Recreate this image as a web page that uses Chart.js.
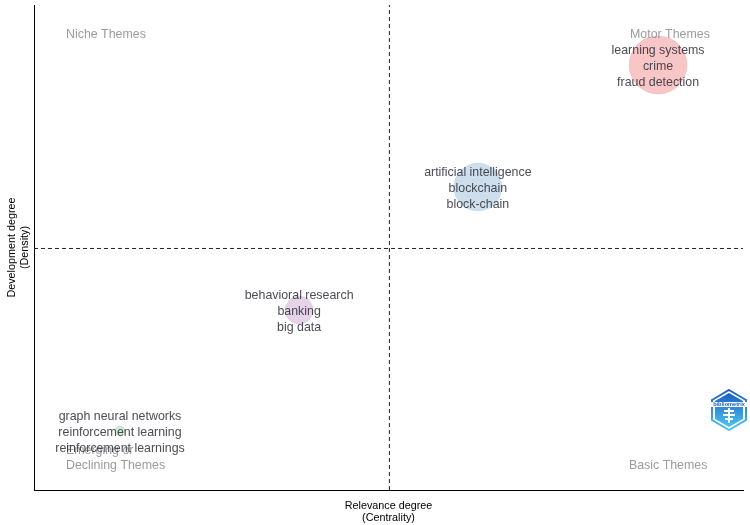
<!DOCTYPE html>
<html>
<head>
<meta charset="utf-8">
<style>
  html, body { margin: 0; padding: 0; background: #fff; }
  #wrap { position: relative; width: 750px; height: 525px; }
  #logo { position: absolute; left: 711px; top: 389px; }
</style>
<script src="https://cdn.jsdelivr.net/npm/chart.js@4"></script>
</head>
<body>
<div id="wrap">
  <canvas id="map" width="750" height="525"></canvas>
  <svg id="logo" width="36" height="42" viewBox="0 0 36 42">
    <defs>
      <linearGradient id="hexFill" x1="0" y1="0" x2="0" y2="1">
        <stop offset="0" stop-color="#1c5fc0"/>
        <stop offset="1" stop-color="#4cc4f0"/>
      </linearGradient>
    </defs>
    <polygon points="18,1 35,11 35,31 18,41 1,31 1,11" fill="#fff" stroke="url(#hexFill)" stroke-width="2"/>
    <polygon points="18,4 32,12 32,30 18,38 4,30 4,12" fill="url(#hexFill)"/>
    <rect x="0" y="13" width="36" height="5" fill="#fff"/>
    <text x="18" y="17.4" font-family="Liberation Sans" font-size="5.6" font-weight="bold" fill="#1c5fc0" text-anchor="middle">bibliometrix</text>
    <path d="M18 19v15M13 22h10M12 26h12M14 30h8" stroke="#fff" stroke-width="2" fill="none"/>
  </svg>
</div>
<script>
// Thematic map: values rescaled so the quadrant lines sit at 0
const clusterNames = ['motor', 'ai', 'banking', 'gnn'];
const centrality = [0.756, 0.249, -0.254, -0.758];
const density = [0.754, 0.252, -0.253, -0.75];
const bubbleSize = [29, 24, 14, 5];
const clusterColors = ['228, 26, 28', '55, 126, 184', '152, 78, 163', '77, 175, 74'];
const clusterLabels = [
  ['learning systems', 'crime', 'fraud detection'],
  ['artificial intelligence', 'blockchain', 'block-chain'],
  ['behavioral research', 'banking', 'big data'],
  ['graph neural networks', 'reinforcement learning', 'reinforcement learnings']
];

const themeNames = ['Niche Themes', 'Motor Themes', 'Emerging or', 'Declining Themes', 'Basic Themes'];
const themeX = [-0.91, 0.677, -0.91, -0.91, 0.674];
const themeY = [0.885, 0.885, -0.822, -0.884, -0.884];

const xRange = [-1, 0.995];
const yRange = [-0.992, 1];

// Draws the word lists and the quadrant names on top of the bubbles
const textLayer = {
  id: 'textLayer',
  afterDatasetsDraw(chart) {
    const { ctx, scales } = chart;
    const points = chart.getDatasetMeta(0).data;
    ctx.save();
    ctx.font = "12.4px 'Liberation Sans', Arial, sans-serif";
    ctx.textBaseline = 'middle';

    ctx.fillStyle = 'rgba(150, 150, 155, 0.95)';
    ctx.textAlign = 'left';
    themeNames.forEach((name, i) => {
      ctx.fillText(name, scales.x.getPixelForValue(themeX[i]), scales.y.getPixelForValue(themeY[i]) + 1.5);
    });

    ctx.fillStyle = 'rgba(50, 50, 60, 0.88)';
    ctx.textAlign = 'center';
    clusterLabels.forEach((words, i) => {
      words.forEach((word, j) => {
        ctx.fillText(word, points[i].x, points[i].y + (j - 1) * 16 + 1.5);
      });
    });
    ctx.restore();
  }
};

new Chart(document.getElementById('map'), {
  type: 'bubble',
  data: {
    labels: clusterNames,
    datasets: [
      {
        data: centrality.map((x, i) => ({ x: x, y: density[i], r: bubbleSize[i] })),
        backgroundColor: clusterColors.map(c => `rgba(${c}, 0.25)`),
        borderColor: clusterColors.map(c => `rgba(${c}, 0.1)`),
        borderWidth: 1,
        hoverRadius: 0,
      },
      {
        type: 'line',
        data: [{ x: xRange[0], y: 0 }, { x: xRange[1], y: 0 }],
        borderColor: '#222',
        borderWidth: 1,
        borderDash: [4, 3],
        pointRadius: 0,
      },
      {
        type: 'line',
        data: [{ x: 0, y: yRange[0] }, { x: 0, y: yRange[1] }],
        borderColor: '#222',
        borderWidth: 1,
        borderDash: [4, 3],
        pointRadius: 0,
      }
    ]
  },
  options: {
    responsive: false,
    animation: false,
    layout: { autoPadding: false, padding: { top: 5, right: 7, left: 0, bottom: 0 } },
    plugins: { legend: { display: false }, tooltip: { enabled: false } },
    scales: {
      x: {
        type: 'linear',
        min: xRange[0],
        max: xRange[1],
        grid: { display: false },
        border: { color: '#000', width: 1 },
        ticks: { display: false },
        afterFit: scale => { scale.height = 35; },
        title: {
          display: true,
          text: ['Relevance degree', '(Centrality)'],
          color: '#000',
          font: { family: "'Liberation Sans', Arial, sans-serif", size: 10.8 },
          padding: { top: 2, bottom: 0 },
        },
      },
      y: {
        type: 'linear',
        min: yRange[0],
        max: yRange[1],
        grid: { display: false },
        border: { color: '#000', width: 1 },
        ticks: { display: false },
        afterFit: scale => { scale.width = 34; },
        title: {
          display: true,
          text: ['Development degree', '(Density)'],
          color: '#000',
          font: { family: "'Liberation Sans', Arial, sans-serif", size: 10.8 },
          padding: { top: 6, bottom: 0 },
        },
      }
    }
  },
  plugins: [textLayer]
});
</script>
</body>
</html>
